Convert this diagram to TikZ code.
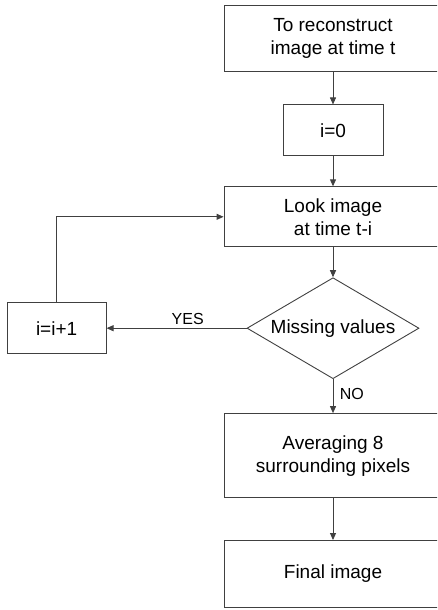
\documentclass[tikz,border=0pt]{standalone}
\usepackage{fontspec}
\setmainfont{Liberation Sans}
\usetikzlibrary{shapes, arrows.meta, positioning}

\tikzset{
	block/.style={draw=black!75, line width=0.9pt, align=center, minimum width=218pt, font=\fontsize{19}{23}\selectfont},
	decision/.style={diamond, draw=black!75, line width=0.9pt, inner sep=0pt, aspect=1.7, minimum width=172pt, minimum height=101pt, font=\fontsize{19}{23}\selectfont},
	arr/.style={draw=black!75, line width=0.9pt, -{Triangle[length=7pt,width=6pt]}},
	lbl/.style={font=\fontsize{16}{19}\selectfont}
}

\begin{document}
\begin{tikzpicture}[node distance=33pt]
	\useasboundingbox (0,0) rectangle (437pt,-610pt);
	\clip (0,0) rectangle (437pt,-610pt);
	\node[block, minimum height=66pt] (start) at (333pt,-38pt) {To reconstruct\\image at time t};
	\node[block, minimum width=100pt, minimum height=51pt, below=of start] (init) {i=0};
	\node[block, minimum height=60pt, below=30pt of init] (look) {Look image\\at time t-i};
	\node[decision, below=30pt of look] (miss) {Missing values};
	\node[block, minimum width=99pt, minimum height=51pt, left=140pt of miss] (incr) {i=i+1};
	\node[block, minimum height=84pt, below=34pt of miss] (avg) {Averaging 8\\surrounding pixels};
	\node[block, minimum height=67pt, below=42pt of avg] (final) {Final image};

	\draw[arr] (start) -- (init);
	\draw[arr] (init) -- (look);
	\draw[arr] (look) -- (miss);
	\draw[arr] (miss) -- node[lbl, pos=0.42, above] {YES} (incr);
	\draw[arr] (miss) -- node[lbl, pos=0.45, right=3pt] {NO} (avg);
	\draw[arr] (avg) -- (final);
	\draw[arr] (incr) |- (look);
\end{tikzpicture}
\end{document}
